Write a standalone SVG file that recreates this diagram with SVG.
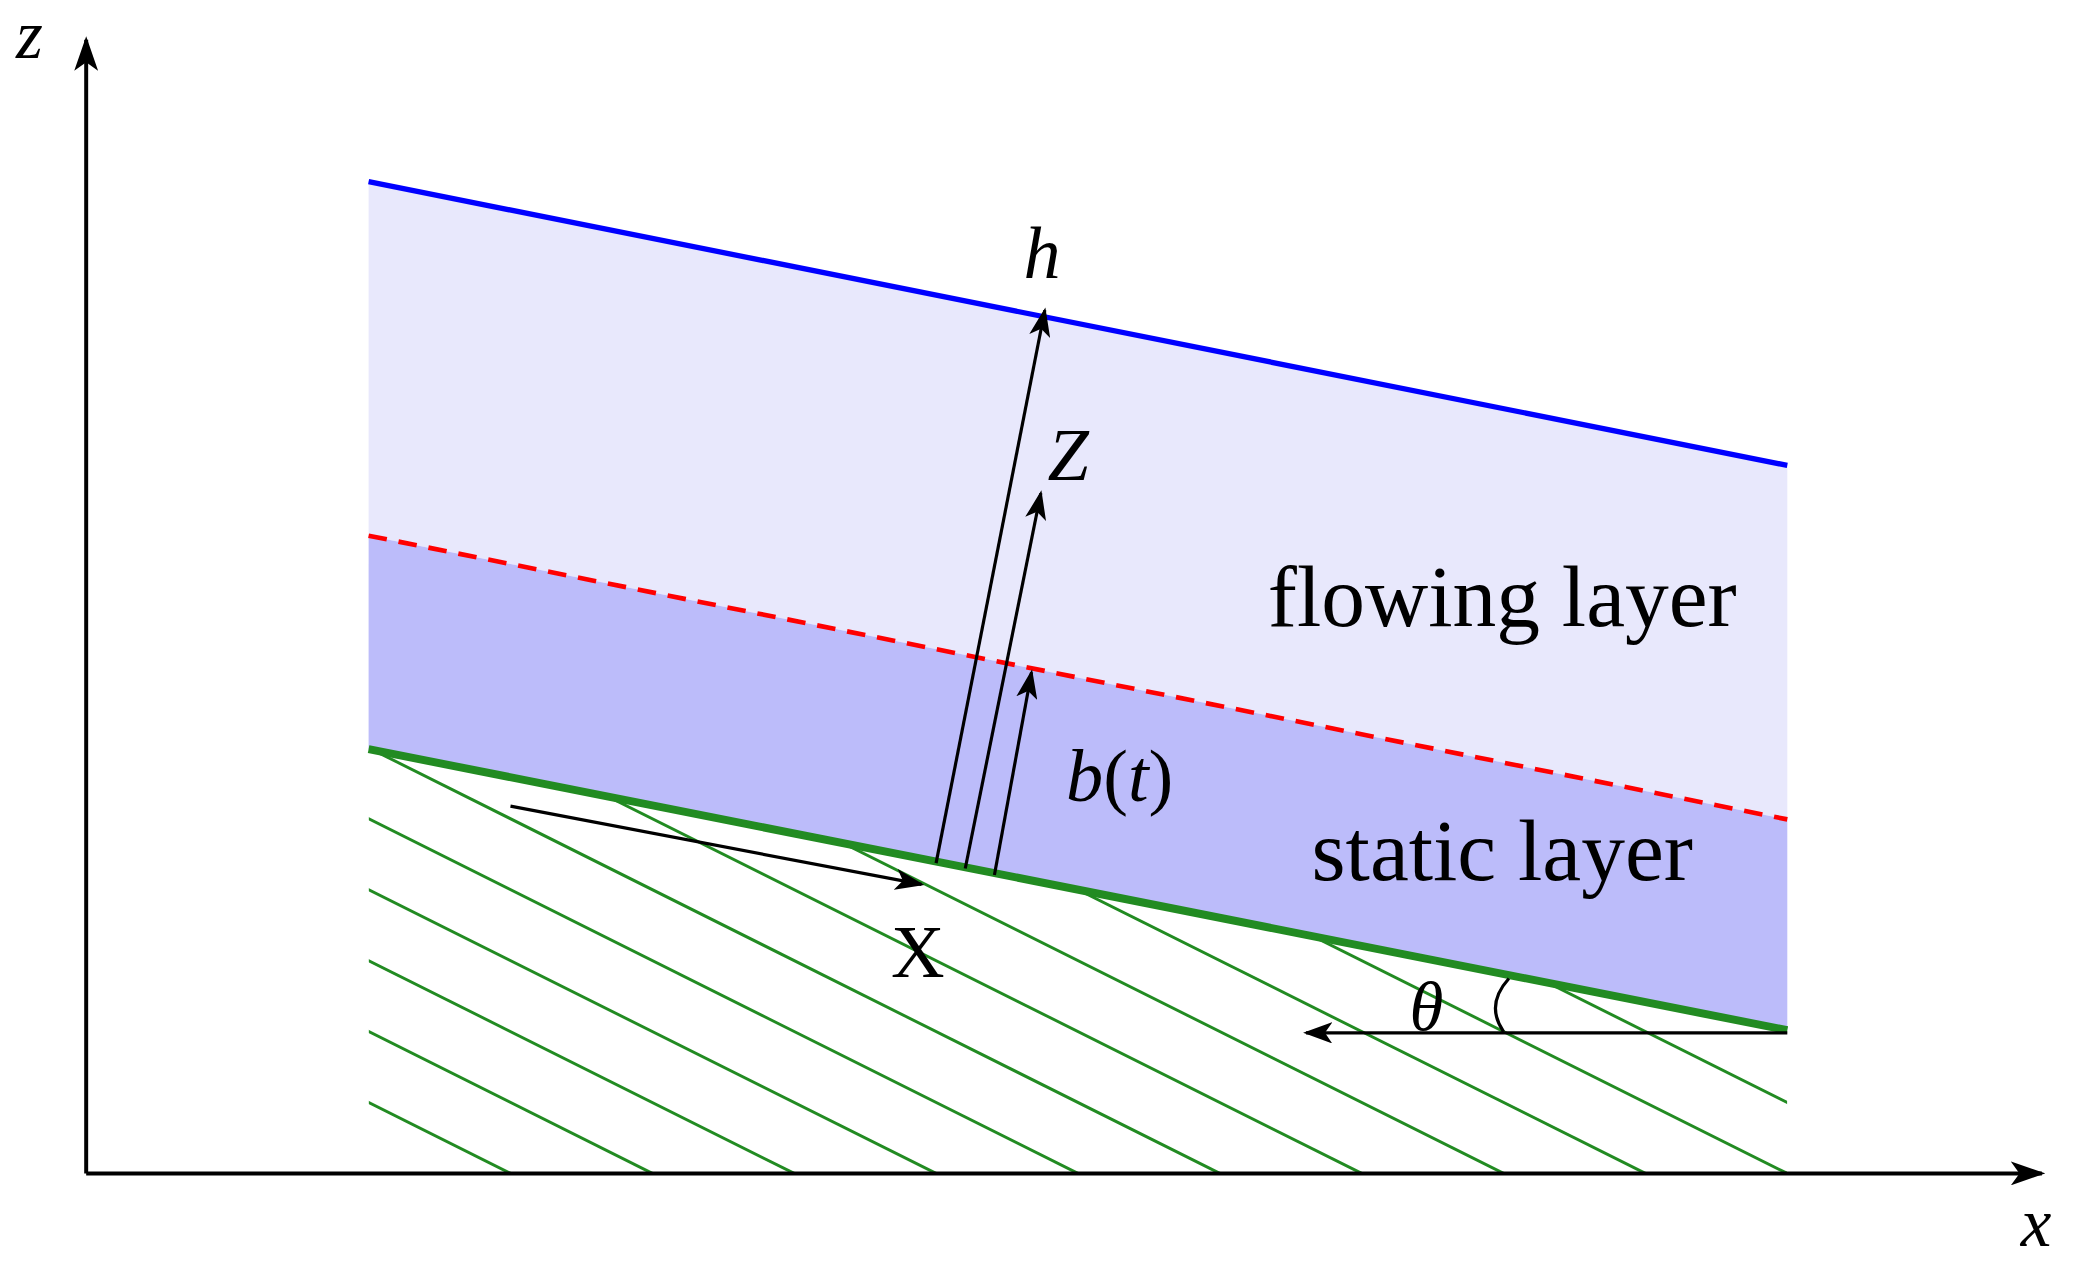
<svg xmlns="http://www.w3.org/2000/svg" width="2079" height="1266" viewBox="0 0 2079 1266">
<style>
.t{font-family:"Liberation Serif",serif;fill:#000}
.i{font-style:italic}
.ar{stroke:#000;stroke-width:2.4;fill:none;marker-end:url(#ah)}
.h{stroke:#228B22;stroke-width:2.2}
</style>
<defs>
<marker id="ah" viewBox="0 0 10 10" refX="9" refY="5" markerWidth="22" markerHeight="16" orient="auto" markerUnits="userSpaceOnUse" preserveAspectRatio="none">
<path d="M0,0 L10,5 L0,10 L2.5,5 Z" fill="#000"/>
</marker>
<marker id="ah2" viewBox="0 0 10 10" refX="9" refY="5" markerWidth="26" markerHeight="18" orient="auto" markerUnits="userSpaceOnUse" preserveAspectRatio="none">
<path d="M0,0 L10,5 L0,10 L2.5,5 Z" fill="#000"/>
</marker>
<clipPath id="gc"><polygon points="278,565 1348,777 1348,885 278,885"/></clipPath>
</defs>
<rect width="2079" height="1266" fill="#fff"/>
<g transform="scale(1.32589)">
<g id="layers">
<polygon points="278,137 1348,351 1348,618 278,404" fill="#e8e8fc"/>
<polygon points="278,404 1348,618 1348,777 278,565" fill="#bcbcfa"/>
</g>
<g id="ground" clip-path="url(#gc)">
<line class="h" x1="-815" y1="285" x2="385" y2="885"/>
<line class="h" x1="-708" y1="285" x2="492" y2="885"/>
<line class="h" x1="-601" y1="285" x2="599" y2="885"/>
<line class="h" x1="-494" y1="285" x2="706" y2="885"/>
<line class="h" x1="-387" y1="285" x2="813" y2="885"/>
<line class="h" x1="-280" y1="285" x2="920" y2="885"/>
<line class="h" x1="-173" y1="285" x2="1027" y2="885"/>
<line class="h" x1="-66" y1="285" x2="1134" y2="885"/>
<line class="h" x1="41" y1="285" x2="1241" y2="885"/>
<line class="h" x1="148" y1="285" x2="1348" y2="885"/>
<line class="h" x1="255" y1="285" x2="1455" y2="885"/>
<line class="h" x1="362" y1="285" x2="1562" y2="885"/>
</g>
<g id="lines">
<line x1="278" y1="137" x2="1348" y2="351" stroke="#0000ff" stroke-width="4"/>
<line x1="278" y1="404" x2="1348" y2="618" stroke="#ff0000" stroke-width="3.5" stroke-dasharray="14,9"/>
<line x1="278" y1="565" x2="1348" y2="777" stroke="#228B22" stroke-width="6"/>
</g>
<g id="connectors">
<line x1="65" y1="885" x2="65" y2="30" stroke="#000" stroke-width="3" marker-end="url(#ah2)"/>
<line x1="65" y1="885" x2="1540" y2="885" stroke="#000" stroke-width="3" marker-end="url(#ah2)"/>
<line class="ar" x1="706" y1="651" x2="788" y2="234"/>
<line class="ar" x1="728" y1="655" x2="785" y2="372"/>
<line class="ar" x1="750" y1="660" x2="778" y2="507"/>
<line class="ar" x1="385" y1="608" x2="695" y2="667"/>
<line class="ar" x1="1348" y1="779" x2="985" y2="779"/>
<path d="M1138,738 Q1120,758 1134,778" stroke="#000" stroke-width="2.4" fill="none"/>
</g>
<g id="labels">
<text class="t i" x="12" y="44" font-size="52">z</text>
<text class="t i" x="1524" y="940" font-size="52">x</text>
<text class="t i" x="772" y="210" font-size="56">h</text>
<text class="t i" x="790" y="362" font-size="56">Z</text>
<text class="t i" x="804" y="604" font-size="56">b<tspan font-style="normal">(</tspan>t<tspan font-style="normal">)</tspan></text>
<text class="t" x="672" y="737" font-size="56">X</text>
<text class="t i" x="1063" y="777" font-size="52">θ</text>
<text class="t" x="1133" y="472" font-size="66" text-anchor="middle">flowing layer</text>
<text class="t" x="1133" y="664" font-size="66" text-anchor="middle">static layer</text>
</g>
</g>
</svg>
